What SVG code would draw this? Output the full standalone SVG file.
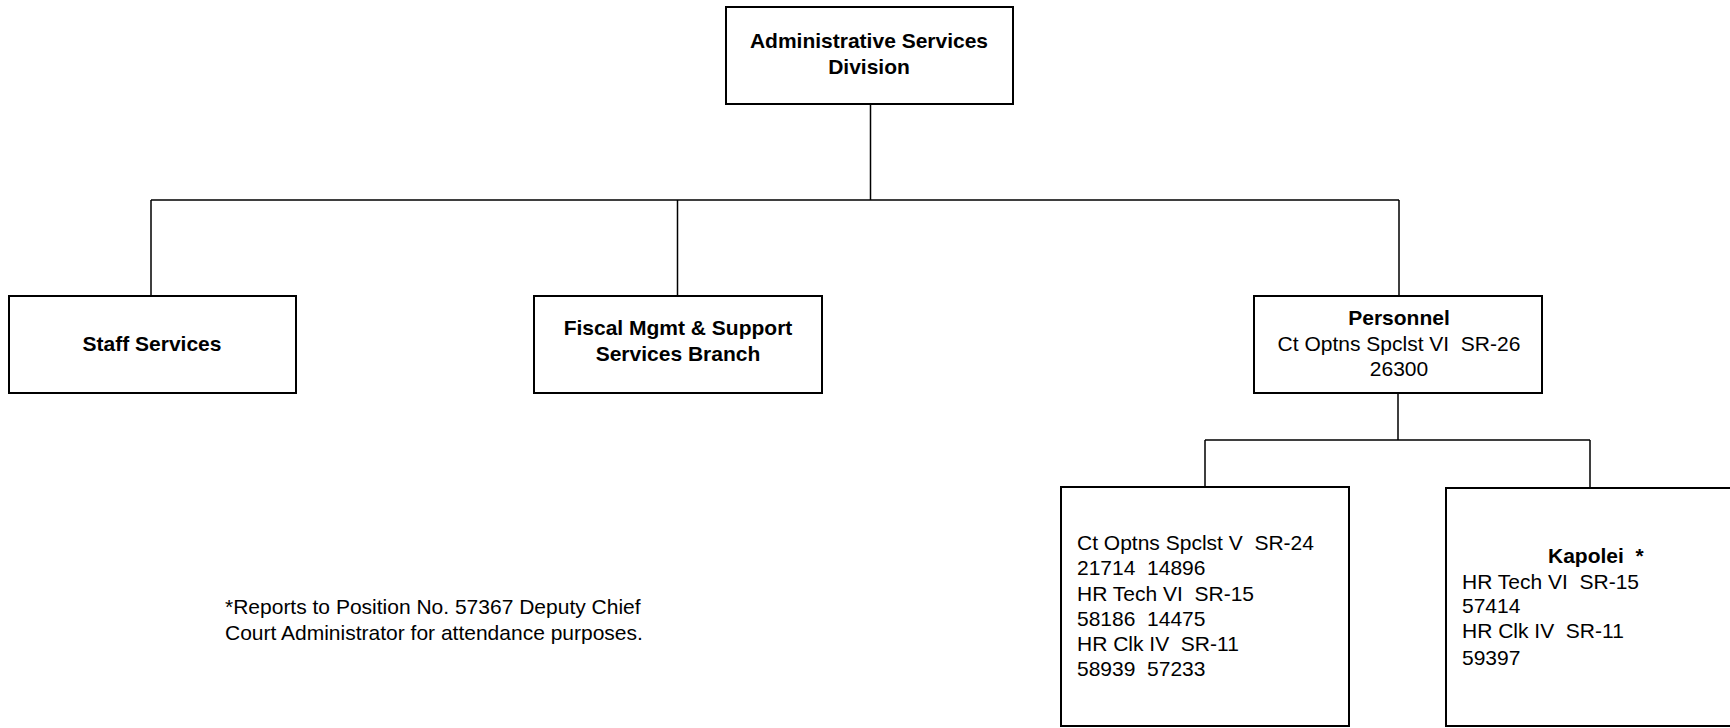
<svg xmlns="http://www.w3.org/2000/svg" width="1730" height="728" viewBox="0 0 1730 728">
<style>
.box{fill:#fff;stroke:#000;stroke-width:2}
.ln{fill:none;stroke:#000;stroke-width:1.5}
text{font-family:"Liberation Sans",Arial,sans-serif;font-size:21px;fill:#000}
.b{font-weight:bold}
.c{text-anchor:middle}
</style>
<rect width="1730" height="728" fill="#fff"/>
<g id="connectors">
<path class="ln" d="M870.5 104V200M151 200H1399M151 200V296M677.5 200V296M1399 200V296M1398 393V440M1205 440H1590M1205 440V487M1590 440V488"/>
</g>
<g id="admin">
<rect class="box" x="726" y="7" width="287" height="97"/>
<text class="b c" x="869" y="48">Administrative Services</text>
<text class="b c" x="869" y="74">Division</text>
</g>
<g id="staff">
<rect class="box" x="9" y="296" width="287" height="97"/>
<text class="b c" x="152" y="351">Staff Services</text>
</g>
<g id="fiscal">
<rect class="box" x="534" y="296" width="288" height="97"/>
<text class="b c" x="678" y="335">Fiscal Mgmt &amp; Support</text>
<text class="b c" x="678" y="361">Services Branch</text>
</g>
<g id="personnel">
<rect class="box" x="1254" y="296" width="288" height="97"/>
<text class="b c" x="1399" y="325">Personnel</text>
<text class="c" x="1399" y="351" xml:space="preserve">Ct Optns Spclst VI  SR-26</text>
<text class="c" x="1399" y="376">26300</text>
</g>
<g id="personnel-staff">
<rect class="box" x="1061" y="487" width="288" height="239"/>
<text x="1077" y="550" xml:space="preserve">Ct Optns Spclst V  SR-24</text>
<text x="1077" y="575" xml:space="preserve">21714  14896</text>
<text x="1077" y="601" xml:space="preserve">HR Tech VI  SR-15</text>
<text x="1077" y="626" xml:space="preserve">58186  14475</text>
<text x="1077" y="651" xml:space="preserve">HR Clk IV  SR-11</text>
<text x="1077" y="676" xml:space="preserve">58939  57233</text>
</g>
<g id="kapolei">
<rect class="box" x="1446" y="488" width="289" height="238"/>
<text class="b" x="1548" y="563" xml:space="preserve">Kapolei  *</text>
<text x="1462" y="589" xml:space="preserve">HR Tech VI  SR-15</text>
<text x="1462" y="613">57414</text>
<text x="1462" y="638" xml:space="preserve">HR Clk IV  SR-11</text>
<text x="1462" y="665">59397</text>
</g>
<g id="footnote">
<text x="225" y="614">*Reports to Position No. 57367 Deputy Chief</text>
<text x="225" y="640">Court Administrator for attendance purposes.</text>
</g>
</svg>
